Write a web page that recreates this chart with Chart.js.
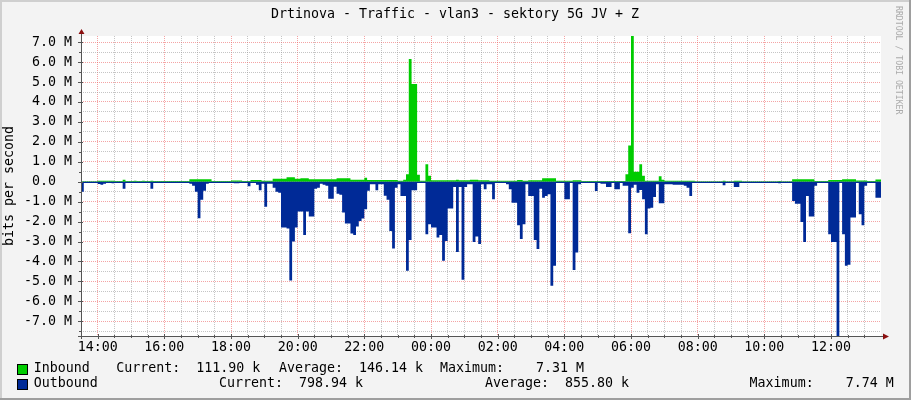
<!DOCTYPE html>
<html><head><meta charset="utf-8">
<script src="https://cdn.jsdelivr.net/npm/chart.js@4"></script>
<style>html,body{margin:0;padding:0;background:#F3F3F3}canvas{display:block}</style>
</head><body>
<canvas id="c" width="911" height="400"></canvas>
<script>
// ---- data (Mbit/s, 5-minute samples starting 13:30) ----
const startMinute = 810;   // 13:30
const stepMinutes = 5;
const inbound = [
0.02,0.02,0.02,0.02,0.02,0.02,0.05,0.05,0.05,0.05,0.05,0.05,
0.03,0.03,0.03,0.1,0.03,0.03,0.03,0.05,0.03,0.03,0.05,0.03,
0.03,0.05,0.03,0.03,0.03,0.03,0.03,0.03,0.03,0.03,0.03,0.03,
0.03,0.03,0.03,0.12,0.12,0.12,0.12,0.12,0.12,0.12,0.12,0.03,
0.03,0.03,0.03,0.03,0.03,0.03,0.06,0.06,0.06,0.06,0.03,0.03,
0.03,0.08,0.08,0.08,0.08,0.05,0.05,0.05,0.05,0.15,0.15,0.15,
0.15,0.15,0.22,0.22,0.22,0.15,0.15,0.18,0.18,0.18,0.12,0.12,
0.12,0.12,0.12,0.12,0.12,0.12,0.12,0.12,0.18,0.18,0.18,0.18,
0.18,0.1,0.1,0.1,0.1,0.1,0.2,0.08,0.08,0.08,0.08,0.08,
0.08,0.08,0.08,0.08,0.08,0.08,0.05,0.05,0.1,0.37,6.15,4.9,
4.9,0.35,0.05,0.05,0.87,0.3,0.07,0.07,0.07,0.07,0.07,0.07,
0.07,0.07,0.07,0.1,0.07,0.07,0.07,0.07,0.1,0.1,0.1,0.07,
0.07,0.07,0.07,0.05,0.05,0.05,0.05,0.05,0.05,0.05,0.05,0.05,
0.05,0.08,0.08,0.05,0.05,0.07,0.07,0.07,0.07,0.07,0.17,0.17,
0.17,0.17,0.17,0.05,0.05,0.05,0.05,0.05,0.05,0.07,0.07,0.07,
0.04,0.04,0.04,0.04,0.04,0.04,0.04,0.04,0.04,0.04,0.04,0.04,
0.04,0.04,0.04,0.04,0.37,1.82,7.31,0.5,0.5,0.87,0.3,0.05,
0.05,0.05,0.05,0.05,0.28,0.1,0.05,0.05,0.05,0.05,0.05,0.05,
0.05,0.05,0.05,0.05,0.05,0.02,0.02,0.02,0.02,0.02,0.02,0.02,
0.02,0.02,0.02,0.05,0.02,0.02,0.02,0.05,0.05,0.05,0.02,0.02,
0.02,0.02,0.02,0.02,0.02,0.02,0.02,0.02,0.02,0.02,0.02,0.04,
0.02,0.02,0.02,0.02,0.12,0.12,0.12,0.12,0.12,0.12,0.12,0.12,
0.03,0.03,0.03,0.03,0.03,0.08,0.08,0.08,0.08,0.08,0.12,0.12,
0.12,0.12,0.12,0.06,0.06,0.06,0.06,0.03,0.03,0.03,0.112,0.112
];
const outbound = [
0.5,0.02,0.02,0.02,0.02,0.02,0.12,0.15,0.1,0.03,0.03,0.08,
0.03,0.03,0.05,0.35,0.03,0.02,0.02,0.02,0.02,0.02,0.02,0.02,
0.02,0.35,0.02,0.02,0.02,0.02,0.02,0.02,0.02,0.02,0.02,0.02,
0.02,0.02,0.02,0.1,0.2,0.5,1.83,0.9,0.45,0.1,0.02,0.02,
0.02,0.02,0.02,0.02,0.02,0.02,0.05,0.08,0.08,0.05,0.02,0.02,
0.23,0.03,0.05,0.15,0.43,0.1,1.25,0.1,0.1,0.3,0.5,0.55,
2.3,2.3,2.35,4.95,3.0,2.3,1.5,1.5,2.67,1.5,1.75,1.75,
0.35,0.3,0.1,0.15,0.2,0.85,0.85,0.25,0.6,0.65,1.55,2.1,
2.1,2.6,2.67,2.25,1.97,1.85,1.38,0.45,0.13,0.13,0.43,0.13,
0.13,0.7,0.9,2.47,3.35,0.3,0.13,0.72,0.72,4.47,2.93,0.43,
0.43,0.05,0.05,0.05,2.63,2.13,2.3,2.3,2.8,2.67,3.97,2.97,
1.35,1.35,0.27,3.52,0.27,4.92,0.27,0.13,0.13,3.02,2.75,3.13,
0.13,0.38,0.13,0.13,0.88,0.05,0.05,0.05,0.05,0.13,0.38,1.05,
1.05,2.18,2.88,2.13,0.13,0.72,0.72,2.93,3.38,0.35,0.8,0.72,
0.63,5.22,4.22,0.05,0.05,0.05,0.88,0.88,0.05,4.43,3.55,0.13,
0.03,0.03,0.03,0.03,0.03,0.47,0.05,0.1,0.1,0.27,0.27,0.05,
0.38,0.38,0.05,0.2,0.2,2.58,0.3,0.15,0.55,0.42,0.88,2.63,
1.35,1.3,0.77,0.13,1.08,1.08,0.13,0.13,0.13,0.15,0.15,0.15,
0.15,0.2,0.3,0.72,0.05,0.02,0.02,0.02,0.02,0.02,0.02,0.02,
0.02,0.02,0.02,0.18,0.02,0.02,0.02,0.27,0.27,0.02,0.02,0.02,
0.02,0.02,0.02,0.02,0.02,0.02,0.02,0.02,0.02,0.02,0.02,0.08,
0.02,0.02,0.02,0.02,0.97,1.1,1.1,2.02,3.02,0.72,1.75,1.75,
0.2,0.05,0.05,0.05,0.05,2.63,3.02,3.02,7.74,0.05,2.63,4.22,
4.17,1.8,1.8,0.05,1.63,2.18,0.2,0.05,0.05,0.05,0.8,0.8
];
const xTickLabels = ['14:00','16:00','18:00','20:00','22:00','00:00','02:00','04:00','06:00','08:00','10:00','12:00'];
const xFirstTick = 840;   // 14:00 in minutes
const yTickValues = [7,6,5,4,3,2,1,0,-1,-2,-3,-4,-5,-6,-7];
const yTickLabels = ['7.0 M','6.0 M','5.0 M','4.0 M','3.0 M','2.0 M','1.0 M','0.0  ','-1.0 M','-2.0 M','-3.0 M','-4.0 M','-5.0 M','-6.0 M','-7.0 M'];
const seriesNames = ['Inbound','Outbound'];
const currentVals = [111.90, 798.94];
const currentUnits = ['k','k'];
const averageVals = [146.14, 855.80];
const averageUnits = ['k','k'];
const maximumVals = [7.31, 7.74];
const maximumUnits = ['M','M'];
const titleText = 'Drtinova - Traffic - vlan3 - sektory 5G JV + Z';
const yAxisTitle = 'bits per second';
const watermark = 'RRDTOOL / TOBI OETIKER';

// ---- styling ----
const GREEN = '#00CC00', BLUE = '#002A97';
const MAJOR = 'rgba(235,90,90,0.55)', MINOR = 'rgba(150,150,150,0.55)';
const FONT = '"DejaVu Sans Mono"';
const FS = 13.3;
const M = 1e6;

function toPoints(arr, sign) {
  const p = arr.map((v, i) => ({x: startMinute + i * stepMinutes, y: sign * v * M}));
  p.push({x: startMinute + arr.length * stepMinutes, y: sign * arr[arr.length - 1] * M});
  return p;
}

const decor = {
  id: 'decor',
  beforeDraw(chart) {
    const ctx = chart.ctx, a = chart.chartArea, W = chart.width, H = chart.height;
    ctx.save();
    ctx.fillStyle = '#F3F3F3'; ctx.fillRect(0, 0, W, H);
    ctx.fillStyle = '#CFCFCF'; ctx.fillRect(0, 0, W, 2); ctx.fillRect(0, 0, 2, H);
    ctx.fillStyle = '#9E9E9E'; ctx.fillRect(0, H - 2, W, 2); ctx.fillRect(W - 2, 0, 2, H);
    ctx.fillStyle = '#FFFFFF'; ctx.fillRect(a.left, a.top, a.right - a.left, a.bottom - a.top);
    ctx.restore();
  },
  afterDatasetsDraw(chart) {
    const ctx = chart.ctx, a = chart.chartArea;
    const y0 = Math.round(chart.scales.y.getPixelForValue(0)) + 0.5;
    ctx.save();
    ctx.strokeStyle = BLUE; ctx.lineWidth = 1;
    ctx.beginPath(); ctx.moveTo(a.left, y0); ctx.lineTo(a.right, y0); ctx.stroke();
    ctx.restore();
  },
  afterDraw(chart) {
    const ctx = chart.ctx, a = chart.chartArea;
    const xs = chart.scales.x, ys = chart.scales.y;
    ctx.save();
    // axes
    ctx.strokeStyle = '#555'; ctx.lineWidth = 1;
    ctx.beginPath();
    ctx.moveTo(a.left - 3, a.bottom + 0.5); ctx.lineTo(a.right + 3, a.bottom + 0.5);
    ctx.moveTo(a.left + 0.5, a.bottom + 3); ctx.lineTo(a.left + 0.5, a.top - 2);
    // tick marks
    xs.ticks.forEach(t => {
      const px = Math.round(xs.getPixelForValue(t.value)) + 0.5;
      const major = (t.value - xFirstTick) % 120 === 0;
      ctx.moveTo(px, a.bottom - (major ? 2 : 1)); ctx.lineTo(px, a.bottom + (major ? 3 : 2));
    });
    ys.ticks.forEach(t => {
      const py = Math.round(ys.getPixelForValue(t.value)) + 0.5;
      const major = Number.isInteger(t.value / M);
      ctx.moveTo(a.left - (major ? 3 : 2), py); ctx.lineTo(a.left + (major ? 2 : 1), py);
    });
    ctx.stroke();
    // arrows
    ctx.fillStyle = '#8B1010';
    ctx.beginPath();
    ctx.moveTo(a.left + 0.5, a.top - 7); ctx.lineTo(a.left - 2.5, a.top - 2); ctx.lineTo(a.left + 3.5, a.top - 2); ctx.closePath();
    ctx.moveTo(a.right + 8, a.bottom + 0.5); ctx.lineTo(a.right + 2, a.bottom - 2.5); ctx.lineTo(a.right + 2, a.bottom + 3.5); ctx.closePath();
    ctx.fill();
    // title
    ctx.fillStyle = '#000';
    ctx.font = FS + 'px ' + FONT;
    ctx.textAlign = 'center'; ctx.textBaseline = 'middle';
    ctx.fillText(titleText, 455, 14.5);
    // y axis title
    ctx.save();
    ctx.translate(10, 186); ctx.rotate(-Math.PI / 2);
    ctx.fillText(yAxisTitle, 0, 0);
    ctx.restore();
    // watermark
    ctx.save();
    ctx.fillStyle = '#AAAAAA';
    ctx.font = '8.2px ' + FONT;
    ctx.translate(898, 6); ctx.rotate(Math.PI / 2);
    ctx.textAlign = 'left'; ctx.textBaseline = 'middle';
    ctx.fillText(watermark, 0, 0);
    ctx.restore();
    // legend
    const rowsY = [368.5, 384];
    const colX = [[33.7, 116.2, 279, 440], [33.7, 219, 485, 749.6]];
    const colors = [GREEN, BLUE];
    const fmt = v => v.toFixed(2).padStart(8);
    ctx.textAlign = 'left'; ctx.textBaseline = 'middle';
    for (let r = 0; r < 2; r++) {
      const y = rowsY[r];
      ctx.fillStyle = colors[r];
      ctx.fillRect(17.5, Math.round(y - 5) + 0.5, 10, 10);
      ctx.strokeStyle = '#000'; ctx.lineWidth = 1;
      ctx.strokeRect(17.5, Math.round(y - 5) + 0.5, 10, 10);
      ctx.fillStyle = '#000';
      ctx.fillText(seriesNames[r], colX[r][0], y);
      ctx.fillText('Current:' + fmt(currentVals[r]) + ' ' + currentUnits[r], colX[r][1], y);
      ctx.fillText('Average:' + fmt(averageVals[r]) + ' ' + averageUnits[r], colX[r][2], y);
      ctx.fillText('Maximum:' + fmt(maximumVals[r]) + ' ' + maximumUnits[r], colX[r][3], y);
    }
    ctx.restore();
  }
};

new Chart(document.getElementById('c'), {
  type: 'line',
  data: {
    datasets: [
      {label: seriesNames[1], data: toPoints(outbound, -1), stepped: true, fill: 'origin',
       backgroundColor: BLUE, borderColor: BLUE, borderWidth: 0, pointRadius: 0},
      {label: seriesNames[0], data: toPoints(inbound, 1), stepped: true, fill: 'origin',
       backgroundColor: GREEN, borderColor: GREEN, borderWidth: 0, pointRadius: 0}
    ]
  },
  options: {
    responsive: false, animation: false, devicePixelRatio: 1,
    layout: {padding: {top: 36, right: 30, left: 0, bottom: 0}},
    plugins: {legend: {display: false}, tooltip: {enabled: false}},
    scales: {
      x: {
        type: 'linear', min: startMinute, max: startMinute + 1440,
        afterBuildTicks: s => { const t = []; for (let v = xFirstTick; v < startMinute + 1440; v += 30) t.push({value: v}); s.ticks = t; },
        afterFit: s => { s.height = 64; },
        ticks: {autoSkip: false, maxRotation: 0, padding: 4, color: '#000',
          font: {family: 'DejaVu Sans Mono', size: FS},
          callback: v => ((v - xFirstTick) % 120 === 0 ? xTickLabels[(v - xFirstTick) / 120] : '')},
        grid: {drawTicks: false, lineWidth: 1,
          color: c => (c.tick && (c.tick.value - xFirstTick) % 120 === 0 ? MAJOR : MINOR)},
        border: {display: false, dash: [1, 1]}
      },
      y: {
        min: -7.74 * M, max: 7.31 * M,
        afterBuildTicks: s => { const t = []; for (let v = -7.5; v <= 7.0; v += 0.5) t.push({value: v * M}); s.ticks = t; },
        afterFit: s => { s.width = 81; },
        ticks: {autoSkip: false, padding: 9, color: '#000',
          font: {family: 'DejaVu Sans Mono', size: FS},
          callback: v => { const k = yTickValues.indexOf(v / M); return k >= 0 ? yTickLabels[k] : ''; }},
        grid: {drawTicks: false, lineWidth: 1,
          color: c => (c.tick && Number.isInteger(c.tick.value / M) ? MAJOR : MINOR)},
        border: {display: false, dash: [1, 1]}
      }
    }
  },
  plugins: [decor]
});
</script>
</body></html>
